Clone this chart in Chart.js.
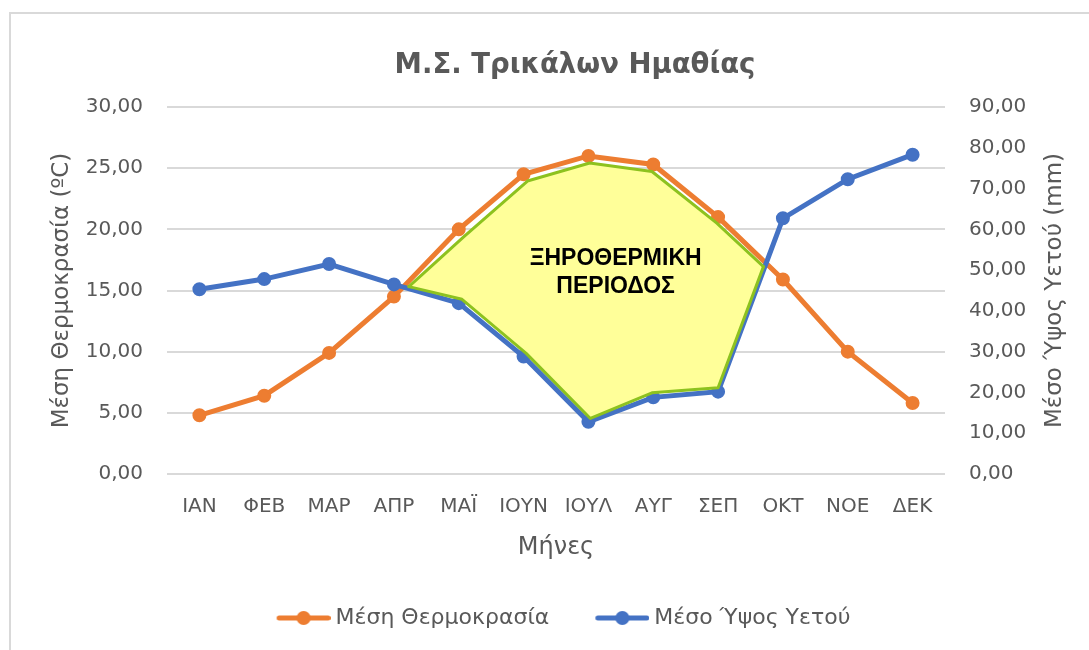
<!DOCTYPE html>
<html lang="el">
<head>
<meta charset="utf-8">
<title>Μ.Σ. Τρικάλων Ημαθίας</title>
<script src="https://cdn.jsdelivr.net/npm/chart.js@4.4.1/dist/chart.umd.min.js"></script>
<style>
  html, body { margin: 0; padding: 0; background: #ffffff; overflow: hidden; width: 1089px; height: 650px; }
  #frame { position: absolute; left: 9px; top: 12px; width: 1200px; height: 700px;
           border-top: 2px solid #d9d9d9; border-left: 2px solid #d9d9d9; }
  #wrap { position: absolute; left: 0; top: 0; width: 1138px; height: 650px; }
</style>
</head>
<body>
<div id="frame"></div>
<div id="wrap"><canvas id="climate" width="1138" height="650"></canvas></div>
<script>
// Monthly climate normals for the Trikala (Imathia) station
const months = ['ΙΑΝ', 'ΦΕΒ', 'ΜΑΡ', 'ΑΠΡ', 'ΜΑΪ', 'ΙΟΥΝ', 'ΙΟΥΛ', 'ΑΥΓ', 'ΣΕΠ', 'ΟΚΤ', 'ΝΟΕ', 'ΔΕΚ'];
const meanTemperature = [4.8, 6.4, 9.9, 14.5, 20.0, 24.5, 26.0, 25.3, 21.0, 15.9, 10.0, 5.8];
const meanPrecipitation = [45.3, 47.8, 51.5, 46.5, 41.9, 28.8, 12.8, 18.8, 20.2, 62.7, 72.3, 78.3];

// Axis ranges: [min, max, step]
const temperatureAxis = [0, 30, 5];
const precipitationAxis = [0, 90, 10];

// Dry-warm period outline (x = month index, y = temperature scale)
const dryUpperX = [3.23, 4.08, 5.06, 6.02, 6.98, 7.98, 8.70];
const dryUpperT = [15.32, 19.41, 23.95, 25.42, 24.73, 20.51, 16.95];
const dryLowerX = [3.23, 4.05, 5.04, 6.03, 6.98, 8.00, 8.70];
const dryLowerT = [15.32, 14.28, 9.86, 4.54, 6.64, 7.05, 16.95];
const dryLabelLines = ['ΞΗΡΟΘΕΡΜΙΚΗ', 'ΠΕΡΙΟΔΟΣ'];
const dryLabelAt = { x: 6.42, t: 16.45 };

const TEMP_COLOR = '#ED7D31';
const RAIN_COLOR = '#4472C4';
const TEXT_COLOR = '#595959';
const FONT = "'DejaVu Sans', 'Noto Sans', sans-serif";

Chart.defaults.font.family = FONT;
Chart.defaults.color = TEXT_COLOR;

const toPoints = (xs, ys) => xs.map((x, i) => ({ x, y: ys[i] }));
const fmt = v => Number(v).toFixed(2).replace('.', ',');

// Legend symbol: short line with a dot in the middle, drawn at the right of a wider transparent strip
function legendSymbol(color) {
  const c = document.createElement('canvas');
  c.width = 75; c.height = 16;
  const g = c.getContext('2d');
  g.strokeStyle = color; g.lineWidth = 5; g.lineCap = 'round';
  g.beginPath(); g.moveTo(23.5, 8); g.lineTo(72.5, 8); g.stroke();
  g.fillStyle = color;
  g.beginPath(); g.arc(48, 8, 7, 0, Math.PI * 2); g.fill();
  return c;
}
const legendSymbols = [legendSymbol(TEMP_COLOR), legendSymbol(RAIN_COLOR)];

// Right axis title, read bottom-to-top
const precipTitle = {
  id: 'precipTitle',
  afterDraw(chart) {
    const { ctx, scales, chartArea } = chart;
    ctx.save();
    ctx.translate(scales.y1.left + 110, (chartArea.top + chartArea.bottom) / 2);
    ctx.rotate(-Math.PI / 2);
    ctx.font = '23px ' + FONT;
    ctx.fillStyle = TEXT_COLOR;
    ctx.textAlign = 'center';
    ctx.textBaseline = 'middle';
    ctx.fillText('Μέσο Ύψος Υετού (mm)', 0, 0);
    ctx.restore();
  }
};

// Label inside the dry-warm area
const dryLabel = {
  id: 'dryLabel',
  afterDatasetsDraw(chart) {
    const { ctx, scales } = chart;
    const cx = scales.xp.getPixelForValue(dryLabelAt.x);
    const cy = scales.y.getPixelForValue(dryLabelAt.t);
    ctx.save();
    ctx.font = "bold 23px 'Liberation Sans', Arial, sans-serif";
    ctx.fillStyle = '#000000';
    ctx.textAlign = 'center';
    ctx.textBaseline = 'middle';
    const n = dryLabelLines.length;
    dryLabelLines.forEach((line, i) => ctx.fillText(line, cx, cy + (i - (n - 1) / 2) * 28.3));
    ctx.restore();
  }
};

new Chart(document.getElementById('climate'), {
  type: 'line',
  data: {
    labels: months,
    datasets: [
      {
        label: 'Μέση Θερμοκρασία',
        data: meanTemperature,
        xAxisID: 'x', yAxisID: 'y',
        borderColor: TEMP_COLOR, backgroundColor: TEMP_COLOR,
        borderWidth: 5, tension: 0,
        pointRadius: 6, pointBorderWidth: 2,
        pointBackgroundColor: TEMP_COLOR, pointBorderColor: TEMP_COLOR,
        order: 2
      },
      {
        label: 'Μέσο Ύψος Υετού',
        data: meanPrecipitation,
        xAxisID: 'x', yAxisID: 'y1',
        borderColor: RAIN_COLOR, backgroundColor: RAIN_COLOR,
        borderWidth: 5, tension: 0,
        pointRadius: 6, pointBorderWidth: 2,
        pointBackgroundColor: RAIN_COLOR, pointBorderColor: RAIN_COLOR,
        order: 1
      },
      {
        label: 'dry-upper',
        data: toPoints(dryUpperX, dryUpperT),
        xAxisID: 'xp', yAxisID: 'y',
        borderColor: '#8DC21F', borderWidth: 3, borderCapStyle: 'round', borderJoinStyle: 'round',
        pointRadius: 0, tension: 0, fill: false,
        order: 0
      },
      {
        label: 'dry-lower',
        data: toPoints(dryLowerX, dryLowerT),
        xAxisID: 'xp', yAxisID: 'y',
        borderColor: '#8DC21F', borderWidth: 3, borderCapStyle: 'round', borderJoinStyle: 'round',
        backgroundColor: '#FFFF99',
        pointRadius: 0, tension: 0, fill: '-1',
        order: 0
      }
    ]
  },
  options: {
    responsive: false,
    animation: false,
    layout: { padding: { top: 14, left: 12, right: 0, bottom: 11 } },
    plugins: {
      title: {
        display: true,
        text: 'Μ.Σ. Τρικάλων Ημαθίας',
        color: TEXT_COLOR,
        font: { family: FONT, size: 27.5, weight: 'bold' },
        padding: { top: 35.7, bottom: 24.3 }
      },
      legend: {
        position: 'bottom',
        fullSize: false,
        labels: {
          usePointStyle: true,
          pointStyleWidth: 63,
          padding: 31,
          color: TEXT_COLOR,
          font: { family: FONT, size: 22 },
          sort: (a, b) => a.datasetIndex - b.datasetIndex,
          generateLabels(chart) {
            const items = Chart.defaults.plugins.legend.labels.generateLabels(chart);
            return items
              .filter(it => it.datasetIndex < 2)
              .map(it => Object.assign(it, { pointStyle: legendSymbols[it.datasetIndex] }));
          }
        }
      },
      tooltip: { enabled: false }
    },
    scales: {
      x: {
        type: 'category',
        position: 'bottom',
        offset: true,
        grid: { display: false },
        border: { display: false },
        ticks: { color: TEXT_COLOR, font: { size: 20 }, padding: 13, maxRotation: 0, autoSkip: false },
        title: {
          display: true, text: 'Μήνες', color: TEXT_COLOR,
          font: { size: 24 }, padding: { top: 0, bottom: 14 }
        },
        afterFit(scale) { scale.height = 102; }
      },
      xp: {
        type: 'linear',
        position: 'bottom',
        display: false,
        min: -0.5, max: 11.5
      },
      y: {
        type: 'linear',
        position: 'left',
        min: temperatureAxis[0], max: temperatureAxis[1],
        grid: { color: '#d9d9d9', lineWidth: 2, drawTicks: false },
        border: { display: false },
        ticks: { stepSize: temperatureAxis[2], color: TEXT_COLOR, font: { size: 20 }, padding: 24, callback: fmt },
        title: {
          display: true, text: 'Μέση Θερμοκρασία (ºC)', color: TEXT_COLOR,
          font: { size: 23 }, padding: { top: 36.2, bottom: 0 }
        },
        afterFit(scale) { scale.width = 155; }
      },
      y1: {
        type: 'linear',
        position: 'right',
        min: precipitationAxis[0], max: precipitationAxis[1],
        grid: { display: false, drawTicks: false },
        border: { display: false },
        ticks: { stepSize: precipitationAxis[2], color: TEXT_COLOR, font: { size: 20 }, padding: 24, callback: fmt },
        afterFit(scale) { scale.width = 193; }
      }
    }
  },
  plugins: [precipTitle, dryLabel]
});
</script>
</body>
</html>
